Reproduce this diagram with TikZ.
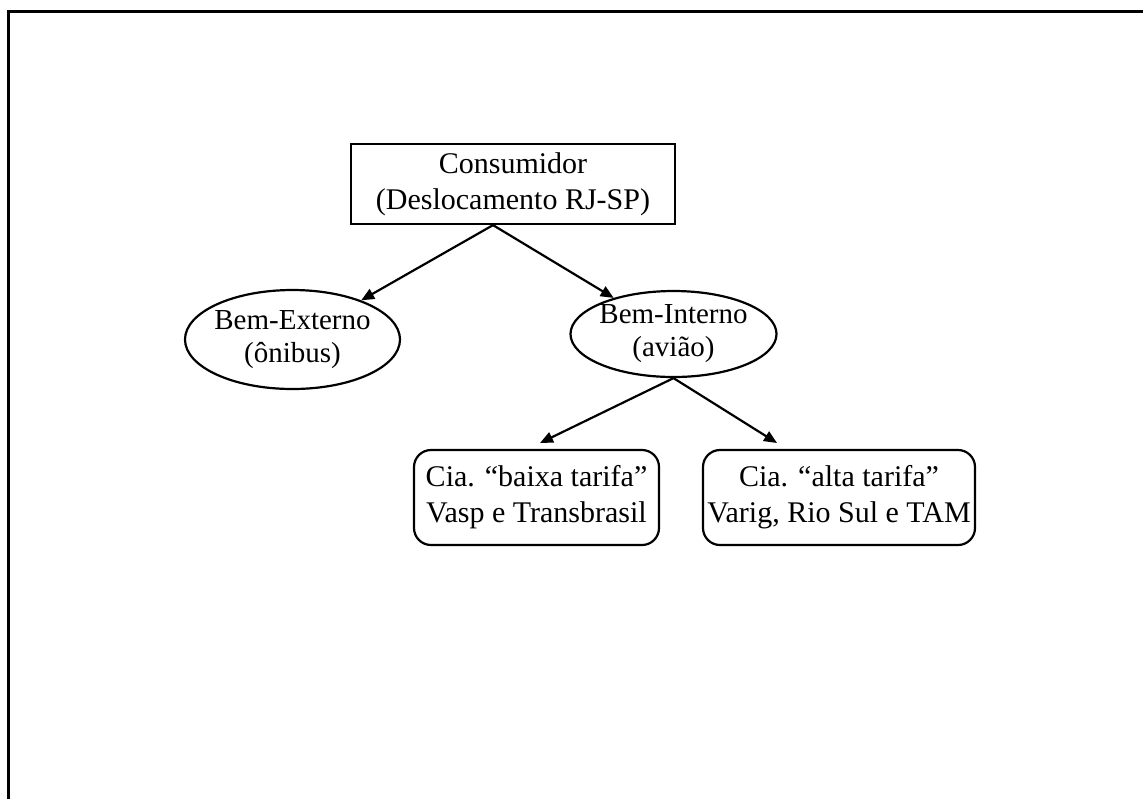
\documentclass[tikz,border=0pt]{standalone}
\usepackage{fontspec}
\setmainfont{Liberation Serif}
\usetikzlibrary{arrows.meta,shapes.geometric}
\begin{document}
\begin{tikzpicture}[x=0.5pt,y=-0.5pt,
  every node/.style={font=\fontsize{15pt}{18pt}\selectfont, align=center, inner sep=0pt},
  rootbox/.style={draw, line width=1.1pt, minimum width=162pt, minimum height=40pt},
  oval/.style={draw, ellipse, line width=1.1pt, font=\fontsize{14.5pt}{16.5pt}\selectfont},
  ciabox/.style={draw, rounded corners=8.5pt, line width=1.1pt, minimum height=47.5pt},
  arr/.style={line width=1.1pt, -{Triangle[length=6.5pt,width=5.5pt]}},
  framestyle/.style={line width=1.5pt}]
\useasboundingbox (0,0) rectangle (1143,799);
\draw[framestyle] (8,799) -- (8,11) -- (1143,11);
\node[rootbox] (root) at (513,184) {Consumidor\\(Deslocamento RJ-SP)};
\node[oval, minimum width=107.5pt, minimum height=49.5pt] (ext) at (292.5,339.5)
  {\makebox[0pt]{Bem-Externo}\\\makebox[0pt]{(ônibus)}};
\node[oval, minimum width=103pt, minimum height=43pt, inner ysep=-3pt] (int) at (673.5,334)
  {\makebox[0pt]{Bem-Interno}\\\makebox[0pt]{(avião)}};
\node[ciabox, minimum width=122.5pt] (low) at (536.5,497.5) {Cia. “baixa tarifa”\\Vasp e Transbrasil};
\node[ciabox, minimum width=136pt] (high) at (839,497.5) {Cia. “alta tarifa”\\Varig, Rio Sul e TAM};
\coordinate (c0) at ([xshift=-10pt]root.south);
\coordinate (t1) at (540,443);
\coordinate (t2) at (777,443);
\draw[arr] (c0) -- (ext);
\draw[arr] (c0) -- (int);
\draw[arr] (int.south) -- (t1);
\draw[arr] (int.south) -- (t2);
\end{tikzpicture}
\end{document}
